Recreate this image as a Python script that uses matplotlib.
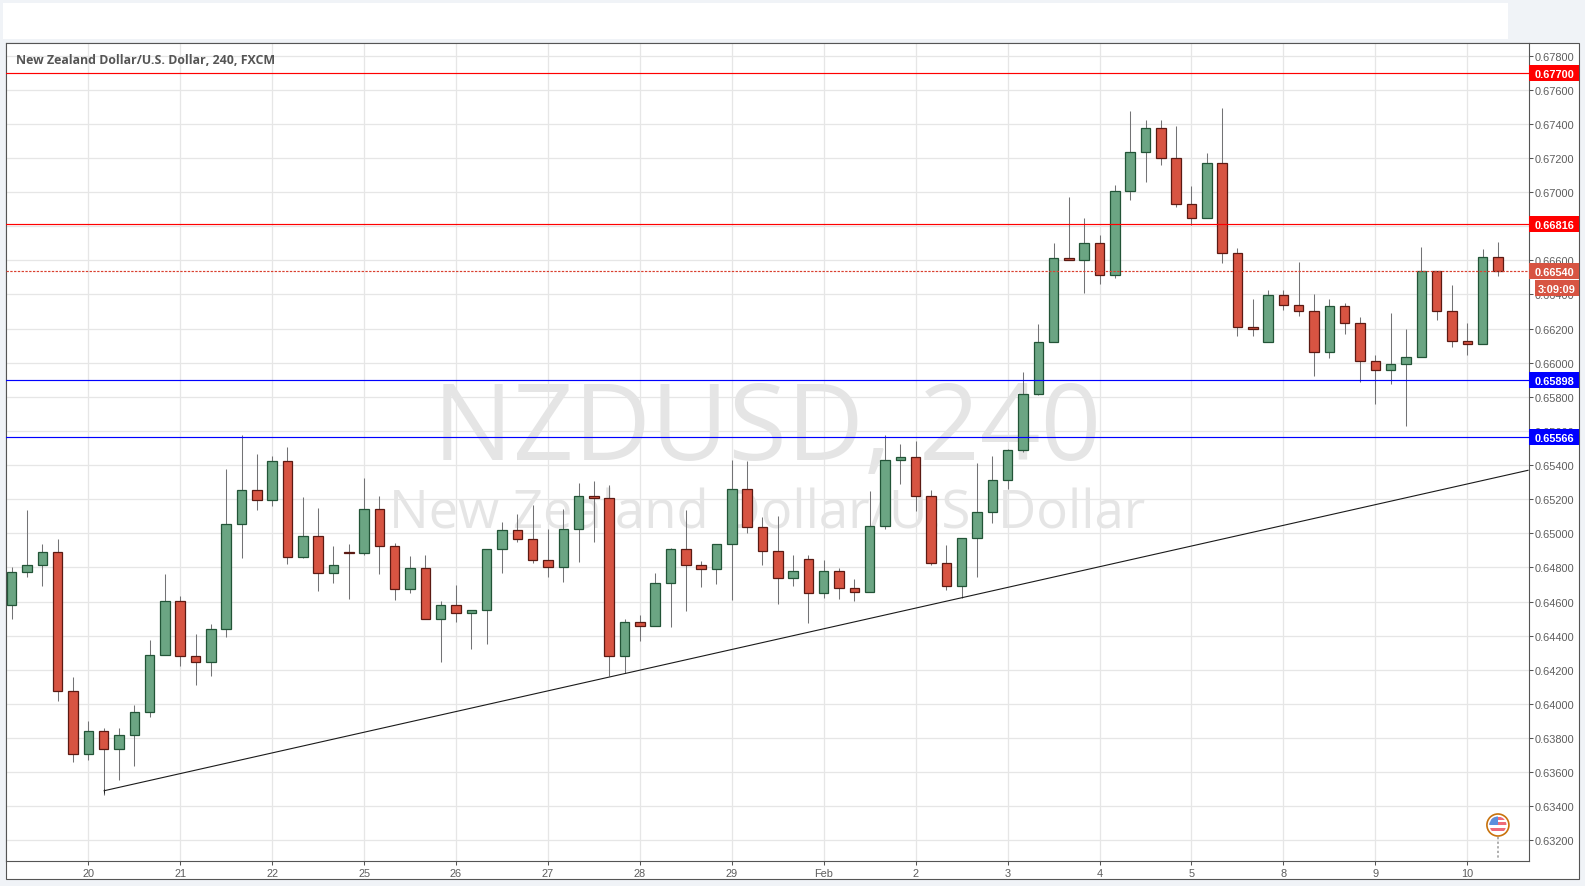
import numpy as np
import matplotlib
matplotlib.use('Agg')
import matplotlib.pyplot as plt
from matplotlib.patches import Circle, Rectangle

# NZDUSD 4h candles, in 1e-5 price units
opens = [64577, 64771, 64812, 64888, 64073, 63704, 63839, 63734, 63816, 63950,
         64284, 64601, 64279, 64243, 64437, 65052, 65251, 65198, 65421, 64859,
         64982, 64765, 64889, 64882, 65140, 64923, 64671, 64794, 64495, 64577,
         64530, 64548, 64905, 65017, 64964, 64841, 64800, 65023, 65216, 65204,
         64279, 64478, 64454, 64706, 64905, 64812, 64788, 64935, 65257, 65034,
         64894, 64736, 64847, 64648, 64777, 64677, 64654, 65040, 65427, 65450,
         65216, 64823, 64689, 64970, 65122, 65310, 65488, 65816, 66120, 66612,
         66601, 66700, 66513, 67005, 67234, 67374, 67198, 66929, 66847, 67169,
         66642, 66208, 66121, 66398, 66340, 66305, 66064, 66334, 66234, 66012,
         65959, 65994, 66035, 66535, 66305, 66129, 66111, 66621]
highs = [64802, 65136, 64937, 64966, 64157, 63900, 63859, 63859, 63993, 64374,
         64761, 64632, 64409, 64468, 65376, 65575, 65464, 65452, 65505, 65212,
         65148, 64925, 64937, 65323, 65218, 64943, 64866, 64872, 64601, 64696,
         64552, 64905, 65066, 65112, 65165, 65025, 65142, 65294, 65306, 65282,
         64497, 64521, 64767, 64913, 65136, 64837, 64935, 65429, 65423, 65095,
         65101, 64872, 64872, 64843, 64794, 64732, 65247, 65575, 65523, 65540,
         65253, 64931, 64970, 65411, 65452, 65493, 65947, 66228, 66702, 66972,
         66849, 66749, 67042, 67476, 67423, 67423, 67388, 67036, 67230, 67493,
         66673, 66374, 66424, 66424, 66588, 66400, 66371, 66353, 66266, 66043,
         66289, 66195, 66676, 66535, 66453, 66230, 66664, 66705]
lows = [64497, 64745, 64693, 64019, 63661, 63673, 63468, 63556, 63638, 63925,
        64284, 64224, 64113, 64165, 64394, 64857, 65138, 65161, 64820, 64853,
        64663, 64710, 64616, 64874, 64763, 64611, 64652, 64495, 64247, 64482,
        64323, 64353, 64769, 64950, 64827, 64745, 64716, 64833, 64950, 64161,
        64179, 64370, 64454, 64452, 64546, 64687, 64704, 64609, 65003, 64816,
        64587, 64693, 64476, 64620, 64614, 64605, 64654, 65026, 65290, 65132,
        64812, 64669, 64622, 64745, 65062, 65261, 65476, 65808, 66120, 66600,
        66411, 66464, 66499, 66956, 67062, 67161, 66915, 66810, 66847, 66587,
        66154, 66159, 66121, 66309, 66273, 65922, 66027, 66168, 65887, 65758,
        65875, 65629, 66035, 66250, 66092, 66045, 66111, 66508]
closes = [64771, 64812, 64888, 64073, 63704, 63839, 63734, 63816, 63950, 64284,
          64601, 64279, 64243, 64437, 65052, 65251, 65198, 65421, 64859, 64982,
          64765, 64812, 64884, 65140, 64923, 64671, 64794, 64495, 64577, 64530,
          64548, 64905, 65017, 64964, 64841, 64800, 65023, 65216, 65204, 64279,
          64478, 64454, 64706, 64905, 64812, 64788, 64935, 65257, 65034, 64894,
          64736, 64777, 64648, 64777, 64677, 64654, 65040, 65427, 65450, 65216,
          64823, 64689, 64970, 65122, 65310, 65488, 65816, 66120, 66612, 66601,
          66700, 66513, 67005, 67234, 67374, 67198, 66929, 66847, 67169, 66642,
          66208, 66197, 66398, 66340, 66305, 66064, 66334, 66234, 66012, 65959,
          65994, 66035, 66535, 66305, 66129, 66111, 66621, 66540]

day_labels = ['20', '21', '22', '25', '26', '27', '28', '29', 'Feb', '2', '3', '4', '5', '8', '9', '10']
day_positions = [5, 11, 17, 23, 29, 35, 41, 47, 53, 59, 65, 71, 77, 83, 89, 95]
price_ticks = [0.632, 0.634, 0.636, 0.638, 0.640, 0.642, 0.644, 0.646, 0.648, 0.650, 0.652, 0.654,
               0.656, 0.658, 0.660, 0.662, 0.664, 0.666, 0.668, 0.670, 0.672, 0.674, 0.676, 0.678]
level_values = [0.67700, 0.66816, 0.65898, 0.65566]
level_colors = ['#ff0000', '#ff0000', '#0000ff', '#0000ff']
last_price = 0.66540
countdown = '3:09:09'
trend_x = [6, 99]
trend_y = [0.6349, 0.6537]

up_fill, up_edge = '#6ba583', '#225437'
down_fill, down_edge = '#d75442', '#5b1a13'
wick_color = '#737375'
W, H = 1585, 887

plt.rcParams['font.family'] = ['Liberation Sans', 'DejaVu Sans']

fig = plt.figure(figsize=(W / 100, H / 100), dpi=100)
fig.patch.set_facecolor('#f0f3f7')

# page chrome, drawn in pixel coordinates
back = fig.add_axes([0, 0, 1, 1], zorder=0)
back.set_xlim(0, W)
back.set_ylim(H, 0)
back.axis('off')
back.add_patch(Rectangle((3, 4), 1505, 36, fc='white', ec='none'))
back.add_patch(Rectangle((6, 43.5), 1573, 836.5, fc='white', ec='#555555', lw=0.8))

left, right, top, bottom = 6, 1528.5, 43.5, 861.5
ax = fig.add_axes([left / W, 1 - bottom / H, (right - left) / W, (bottom - top) / H], zorder=1)
ax.set_facecolor('white')
ax.set_xlim(-0.371, 98.996)
ax.set_ylim(0.630816, 0.678774)

ax.set_xticks(day_positions)
ax.set_xticklabels(day_labels)
ax.set_yticks(price_ticks)
ax.set_yticklabels(['%.5f' % p for p in price_ticks])
ax.yaxis.tick_right()
ax.tick_params(axis='both', labelsize=7.9, labelcolor='#5d5d5d', color='#555555', length=3, width=0.75)
ax.tick_params(axis='y', pad=1.4)
ax.tick_params(axis='x', pad=2.5)
ax.grid(True, color='#e6e6e6', lw=0.9, zorder=0)
ax.set_axisbelow(True)
for s in ax.spines.values():
    s.set_color('#555555')
    s.set_linewidth(0.8)

# watermark
ax.text(0.5, 0.5255, 'NZDUSD, 240', transform=ax.transAxes, ha='center', va='center', fontsize=76.5,
        family=['Open Sans', 'DejaVu Sans'], color='#e5e5e5', zorder=1)
ax.text(0.5, 0.4240, 'New Zealand Dollar/U.S. Dollar', transform=ax.transAxes, ha='center', va='center',
        fontsize=38, family=['Open Sans', 'DejaVu Sans'], color='#e5e5e5', zorder=1)

# candles
x = np.arange(len(opens))
o = np.array(opens) / 1e5
h = np.array(highs) / 1e5
l = np.array(lows) / 1e5
c = np.array(closes) / 1e5
up = c >= o
ax.vlines(x, l, h, color=wick_color, lw=0.75, zorder=3)
ax.bar(x[up], (c - o)[up], bottom=o[up], width=0.62, color=up_fill, edgecolor=up_edge, lw=0.9, zorder=4)
ax.bar(x[~up], (o - c)[~up], bottom=c[~up], width=0.62, color=down_fill, edgecolor=down_edge, lw=0.9, zorder=4)

# drawn levels, trend line, last price
for v, col in zip(level_values, level_colors):
    ax.axhline(v, color=col, lw=0.85, zorder=5)
ax.axhline(last_price, color='#d9402f', lw=0.85, ls=(0, (2, 1.2)), zorder=5)
ax.plot(trend_x, trend_y, color='#1a1a1a', lw=0.8, zorder=5, solid_capstyle='butt')
ax.plot(trend_x[:1], trend_y[:1], marker='|', color='#222222', ms=3, mew=0.7, zorder=5)

ax.text(15.5, 61, 'New Zealand Dollar/U.S. Dollar, 240, FXCM', transform=back.transData, fontsize=8.9,
        family=['Open Sans', 'DejaVu Sans'], weight='bold', color='#555555', va='center', zorder=6)

# front layer: price labels and event marker
front = fig.add_axes([0, 0, 1, 1], zorder=2)
front.set_xlim(0, W)
front.set_ylim(H, 0)
front.axis('off')
front.patch.set_alpha(0)


def price_to_y(p):
    return ax.transData.transform((0, p))[1] * -1 + H


def price_label(p, text, col, x0=right, x1=1578.5):
    y = price_to_y(p)
    front.add_patch(Rectangle((x0, y - 8), x1 - x0, 16, fc=col, ec='none'))
    front.text(1535, y, text, color='white', fontsize=7.9, weight='bold', va='center_baseline', ha='left')


for v, col in zip(level_values, level_colors):
    price_label(v, '%.5f' % v, col)
price_label(last_price, '%.5f' % last_price, down_fill)
cy = price_to_y(last_price) + 17.3
front.add_patch(Rectangle((1535, cy - 8), 43.5, 16, fc=down_fill, ec='none'))
front.text(1538, cy, countdown, color='white', fontsize=7.9, weight='bold', va='center_baseline', ha='left')

# event marker with a small US flag
mx = ax.transData.transform((97, 0.64))[0]
my = 826
front.plot([mx, mx], [my + 12, bottom], color='#999999', lw=1.1, ls=(0, (1.5, 1.5)))
front.add_patch(Circle((mx, my), 11, fc='white', ec='#c8720c', lw=1.2, zorder=3))
clip = Circle((mx, my), 8.5, transform=front.transData, fc='none', ec='none')
front.add_patch(clip)
for k, yy in enumerate([my - 8, my - 2.5, my + 3]):
    r = Rectangle((mx - 9, yy), 18, 2.8, fc='#ef6a78', ec='none', zorder=4)
    front.add_patch(r)
    r.set_clip_path(clip)
cant = Rectangle((mx - 9, my - 9), 9.5, 9.5, fc='#5b8fdc', ec='none', zorder=5)
front.add_patch(cant)
cant.set_clip_path(clip)

fig.savefig('out.png', dpi=100, facecolor=fig.get_facecolor())
